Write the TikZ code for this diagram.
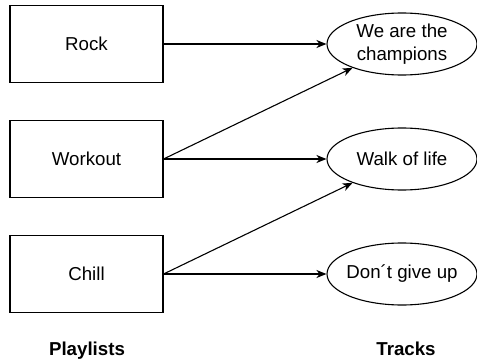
\documentclass[tikz,border=0pt]{standalone}
\usepackage{fontspec}
\setmainfont{Liberation Sans}
\usetikzlibrary{arrows.meta,shapes.geometric}
\begin{document}
\begin{tikzpicture}[x=1pt, y=1pt, line width=1.1pt,
                  font=\fontsize{18.7}{23}\selectfont,
                  liste/.style={draw, minimum width=153pt, minimum height=77pt},
                  morceau/.style={draw, ellipse, minimum width=150pt, minimum height=62pt,
                                  inner xsep=-5pt, inner ysep=-5pt, align=center},
                  fleche/.style={-{Stealth[length=10pt,width=8pt,inset=3pt]}},
                  titre/.style={font=\fontsize{18.7}{23}\selectfont\bfseries, anchor=base}]
\useasboundingbox (0,0) rectangle (477,360);
\foreach \i/\v in {0/Rock, 1/Workout, 2/Chill}
  \node[liste] (p\i) at (86.5, 316-115*\i) {\v};
\foreach \i/\v in {0/{We are the\\champions}, 1/Walk of life, 2/Don´t give up}
  \node[morceau] (m\i) at (402, 316-115*\i) {\v};
\foreach \i in {0,1,2}
  \draw[fleche] (p\i.east) -- (m\i);
\foreach \i/\j in {1/0, 2/1}
  \draw[fleche] (p\i.east) -- (m\j);
\node[titre] (playlists) at (87, 4.5) {Playlists};
\node[titre] (tracks) at (406, 4.5) {Tracks};
\end{tikzpicture}
\end{document}
